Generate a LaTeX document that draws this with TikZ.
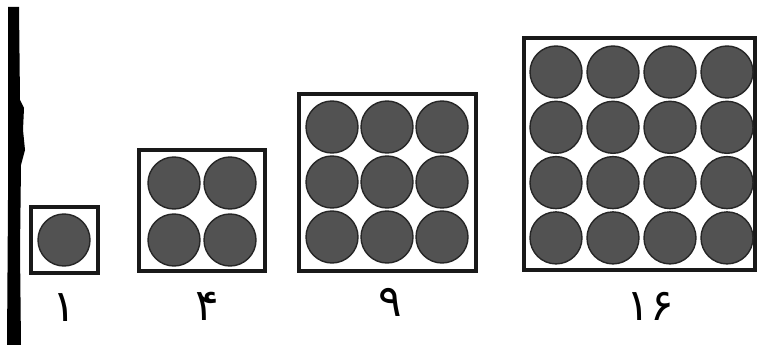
\documentclass[tikz,border=0pt]{standalone}
\usepackage{fontspec}
\newfontfamily\farsi[Script=Arabic]{DejaVu Sans}
\usetikzlibrary{positioning}
\tikzset{
  ball/.style={circle, fill=black!68, draw=black!85, line width=1.4pt,
    minimum size=52pt, inner sep=0pt},
  frame/.style={draw=black!90, line width=4.4pt},
  num/.style={font=\farsi\fontsize{44}{44}\selectfont, inner sep=0pt}
}

\begin{document}
\begin{tikzpicture}[x=1pt, y=-1pt]
      \useasboundingbox (0,0) rectangle (758,345);

      % 1. the dark edge of the scanned page
      \fill[black] (8,7) -- (19,7) -- (20,100) -- (24,108) -- (23,130)
        -- (25,150) -- (21,165) -- (20,250) -- (21,345) -- (7,345)
        -- (8,200) -- cycle;

      % 2. one ball
      \draw[frame] (31,207) rectangle (98,273);
      \node[ball] (b1) at (64,240) {};

      % 3. four balls
      \draw[frame] (139,150) rectangle (265,271);
      \foreach \i in {0,1} {
        \foreach \j in {0,1} {
          \node[ball] (b4-\i-\j) at (174+56*\i, 183+57*\j) {};
        }
      }

      % 4. nine balls
      \draw[frame] (299,94) rectangle (476,271);
      \foreach \i in {0,1,2} {
        \foreach \j in {0,1,2} {
          \node[ball] (b9-\i-\j) at (332+55*\i, 127+55*\j) {};
        }
      }

      % 5. sixteen balls
      \draw[frame] (524,38) rectangle (755,270);
      \foreach \i in {0,1,2,3} {
        \foreach \j in {0,1,2,3} {
          \node[ball] (b16-\i-\j) at (556+57*\i, 72+55.3*\j) {};
        }
      }

      % 6. the counts under the boxes
      \node[num] (n1) at (64,308) {۱};
      \node[num] (n4) at (207,306) {۴};
      \node[num] (n9) at (390,302) {۹};
      \node[num] (n16) at (650,306) {۱۶};
\end{tikzpicture}
\end{document}
